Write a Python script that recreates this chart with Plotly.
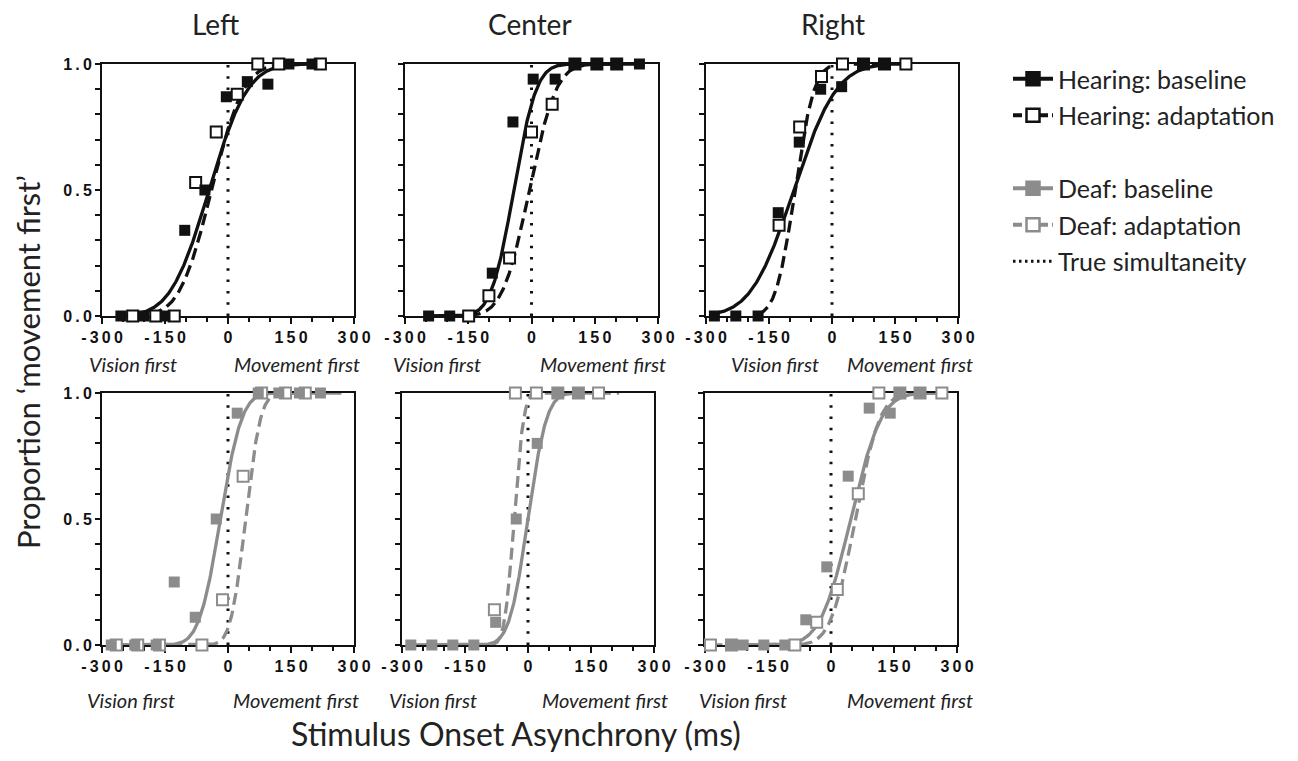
import math
import numpy as np
import plotly.graph_objects as go

# ---------------- data ----------------
panel_titles = ["Left", "Center", "Right"]
legend_names = ["Hearing: baseline", "Hearing: adaptation", "Deaf: baseline",
                "Deaf: adaptation", "True simultaneity"]

# Hearing (top row)
HL_base_x = [-255, -200, -150, -103, -55, -4, 46, 95, 145, 200]
HL_base_y = [0, 0, 0, 0.34, 0.50, 0.87, 0.93, 0.92, 1, 1]
HL_adapt_x = [-227, -172, -128, -77, -28, 22, 71, 121, 220]
HL_adapt_y = [0, 0, 0, 0.53, 0.73, 0.88, 1, 1, 1]

HC_base_x = [-244, -194, -93, -44, 4, 56, 103, 155, 202, 256]
HC_base_y = [0, 0, 0.17, 0.77, 0.94, 0.94, 1, 1, 1, 1]
HC_adapt_x = [-149, -101, -52, 0, 49, 103, 155, 202]
HC_adapt_y = [0, 0.08, 0.23, 0.73, 0.84, 1, 1, 1]

HR_base_x = [-280, -229, -176, -128, -78, -27, 23, 75, 125]
HR_base_y = [0, 0, 0, 0.41, 0.69, 0.90, 0.91, 1, 1]
HR_adapt_x = [-126, -77, -25, 25, 75, 125, 176]
HR_adapt_y = [0.36, 0.75, 0.95, 1, 1, 1, 1]

# Deaf (bottom row)
DL_base_x = [-278, -222, -171, -128, -78, -28, 22, 72, 121, 170, 220]
DL_base_y = [0, 0, 0, 0.25, 0.11, 0.50, 0.92, 1, 1, 1, 1]
DL_adapt_x = [-266, -215, -163, -62, -13, 36, 80, 137, 184]
DL_adapt_y = [0, 0, 0, 0, 0.18, 0.67, 1, 1, 1]

DC_base_x = [-279, -229, -179, -129, -77, -28, 22, 71, 120]
DC_base_y = [0, 0, 0, 0, 0.09, 0.50, 0.80, 1, 1]
DC_adapt_x = [-80, -30, 20, 71, 120, 168]
DC_adapt_y = [0.14, 1, 1, 1, 1, 1]

DR_base_x = [-237, -209, -160, -110, -60, -10, 41, 91, 141, 164, 212]
DR_base_y = [0, 0, 0, 0, 0.10, 0.31, 0.67, 0.94, 0.92, 1, 1]
DR_adapt_x = [-287, -237, -86, -34, 15, 65, 114, 164, 212, 264]
DR_adapt_y = [0, 0, 0, 0.09, 0.22, 0.60, 1, 1, 1, 1]

# fitted psychometric functions: [PSE, SD]
fit_base = [[-45, 72], [-42, 42], [-91, 80], [-18, 40], [0, 35], [47, 57]]
fit_adapt = [[-39, 60], [-5, 50], [-88, 36], [42, 28], [-33, 18], [58, 46]]
# x extent of each drawn curve
span_base = [[-255, 200], [-244, 256], [-280, 125], [-278, 270], [-279, 120], [-237, 264]]
span_adapt = [[-227, 220], [-149, 202], [-176, 176], [-266, 184], [-129, 217], [-287, 264]]

x_ticks = [-300, -150, 0, 150, 300]
y_ticks = [0, 0.5, 1.0]
y_ticklabels = ["0.0", "0.5", "1.0"]

base_series = [(HL_base_x, HL_base_y), (HC_base_x, HC_base_y), (HR_base_x, HR_base_y),
               (DL_base_x, DL_base_y), (DC_base_x, DC_base_y), (DR_base_x, DR_base_y)]
adapt_series = [(HL_adapt_x, HL_adapt_y), (HC_adapt_x, HC_adapt_y), (HR_adapt_x, HR_adapt_y),
                (DL_adapt_x, DL_adapt_y), (DC_adapt_x, DC_adapt_y), (DR_adapt_x, DR_adapt_y)]

# ---------------- styling ----------------
OFF = 8                      # page margin around the figure
FW, FH = 1298 - OFF, 761 - OFF
BLACK = "#111111"
GRAY = "#8c8c8c"
SANS = "Lato"
TXT = "#222222"
TICKFONT = dict(family="Liberation Sans", size=16, color=BLACK, weight="bold")

# panel pixel boxes on the screen (left, right, top, bottom)
boxes = [(102, 354, 64, 316), (405, 658, 64, 316), (706, 958, 64, 316),
         (102, 354, 393, 645), (402, 654, 393, 645), (705, 957, 393, 645)]


def fx(px):
    return (px - OFF) / FW


def fy(py):
    return 1 - (py - OFF) / FH


def spaced(s):
    return "\u2009".join(list(s))


def cdf(x, mu, sd):
    return 0.5 * (1 + math.erf((x - mu) / (sd * math.sqrt(2))))


fig = go.Figure()

# legend entries (dummy traces, no data)
leg_specs = [
    (legend_names[0], BLACK, "square", BLACK, "solid"),
    (legend_names[1], BLACK, "square", "white", "dash"),
    ("\u00a0", "rgba(0,0,0,0)", None, None, "solid"),
    (legend_names[2], GRAY, "square", GRAY, "solid"),
    (legend_names[3], GRAY, "square", "white", "dash"),
    (legend_names[4], BLACK, None, None, "dot"),
]
for i, (nm, col, sym, fill, dash) in enumerate(leg_specs):
    if sym:
        fig.add_trace(go.Scatter(x=[None], y=[None], name=nm, mode="lines+markers",
                                 legendgroup=f"g{i}",
                                 line=dict(color=col, width=4, dash="9px,4px" if dash == "dash" else None),
                                 marker=dict(symbol="square", size=13, color=fill,
                                             line=dict(color=col, width=2.5))))
    else:
        fig.add_trace(go.Scatter(x=[None], y=[None], name=nm, mode="lines",
                                 legendgroup=f"g{i}",
                                 line=dict(color=col, width=3,
                                           dash="2.5px,3.5px" if dash == "dot" else None)))

for p in range(6):
    ax = "" if p == 0 else str(p + 1)
    xa, ya = "x" + ax, "y" + ax
    col = BLACK if p < 3 else GRAY
    # true simultaneity
    fig.add_trace(go.Scatter(x=[0, 0], y=[0, 1], mode="lines", xaxis=xa, yaxis=ya,
                             showlegend=False,
                             line=dict(color=BLACK, width=3, dash="2.5px,8.8px")))
    # fitted curves
    for fit, span, dash in ((fit_base[p], span_base[p], None),
                            (fit_adapt[p], span_adapt[p], "12px,6px")):
        xs = np.linspace(span[0], span[1], 300)
        ys = [cdf(v, fit[0], fit[1]) for v in xs]
        fig.add_trace(go.Scatter(x=xs, y=ys, mode="lines", xaxis=xa, yaxis=ya,
                                 showlegend=False, cliponaxis=False,
                                 line=dict(color=col, width=3.3, dash=dash)))
    # data points
    bx, by = base_series[p]
    axx, axy = adapt_series[p]
    fig.add_trace(go.Scatter(x=axx, y=axy, mode="markers", xaxis=xa, yaxis=ya,
                             showlegend=False, cliponaxis=False,
                             marker=dict(symbol="square", size=11, color="white",
                                         line=dict(color=col, width=2))))
    fig.add_trace(go.Scatter(x=bx, y=by, mode="markers", xaxis=xa, yaxis=ya,
                             showlegend=False, cliponaxis=False,
                             marker=dict(symbol="square", size=11, color=col,
                                         line=dict(width=0))))

layout = dict(
    width=FW, height=FH, margin=dict(l=0, r=0, t=0, b=0, pad=0, autoexpand=False),
    paper_bgcolor="white", plot_bgcolor="white",
    showlegend=True,
    legend=dict(x=fx(1008), y=fy(56), xanchor="left", yanchor="top",
                font=dict(family=SANS, size=25, color=TXT),
                traceorder="grouped", tracegroupgap=1,
                bgcolor="rgba(0,0,0,0)", itemwidth=40),
)

minor_x = [v for v in range(-250, 300, 50) if v % 150 != 0]
minor_y = [round(v / 10, 1) for v in range(1, 10) if v != 5]

for p, (l, r, t, b) in enumerate(boxes):
    ax = "" if p == 0 else str(p + 1)
    layout["xaxis" + ax] = dict(
        domain=[fx(l), fx(r)], anchor="y" + ax, range=[-300, 300], automargin=False,
        showgrid=False, zeroline=False, showline=True, linewidth=2, linecolor=BLACK,
        mirror=True, layer="below traces",
        tickmode="array", tickvals=x_ticks, ticktext=[spaced(str(v)) for v in x_ticks],
        ticks="outside", ticklen=6, tickwidth=2, tickcolor=BLACK,
        tickfont=TICKFONT, ticklabelstandoff=0,
        minor=dict(tickmode="array", tickvals=minor_x, ticks="outside", ticklen=4,
                   tickwidth=2, tickcolor=BLACK),
    )
    layout["yaxis" + ax] = dict(
        domain=[fy(b), fy(t)], anchor="x" + ax, range=[0, 1], automargin=False,
        showgrid=False, zeroline=False, showline=True, linewidth=2, linecolor=BLACK,
        mirror=True, layer="below traces",
        tickmode="array", tickvals=y_ticks, ticktext=[spaced(s) for s in y_ticklabels],
        showticklabels=(p % 3 == 0),
        ticks="outside", ticklen=5, tickwidth=2, tickcolor=BLACK,
        tickfont=TICKFONT, ticklabelstandoff=0,
        minor=dict(tickmode="array", tickvals=minor_y, ticks="outside", ticklen=5,
                   tickwidth=2, tickcolor=BLACK),
    )


def note(text, px, py, size, angle=0, style="normal"):
    return dict(text=text, x=fx(px), y=fy(py), xref="paper", yref="paper",
                xanchor="center", yanchor="middle", showarrow=False, textangle=angle,
                font=dict(family=SANS, size=size, color=TXT, style=style))


ann = []
title_x = [215, 530, 833]
for i, tx in enumerate(title_x):
    ann.append(note(panel_titles[i], tx, 24, 28))

vision_x = [133, 437, 775, 131, 433, 743]
move_x = [297, 603, 910, 296, 605, 910]
lab_y = [364, 364, 364, 700, 700, 700]
for p in range(6):
    ann.append(note("Vision first", vision_x[p], lab_y[p], 20, style="italic"))
    ann.append(note("Movement first", move_x[p], lab_y[p], 20, style="italic"))

ann.append(note("Stimulus Onset Asynchrony (ms)", 516, 733, 32))
ann.append(note("Proportion \u2018movement first\u2019", 28, 362, 31, angle=-90))
layout["annotations"] = ann

fig.update_layout(**layout)
fig.write_html("out.html")
